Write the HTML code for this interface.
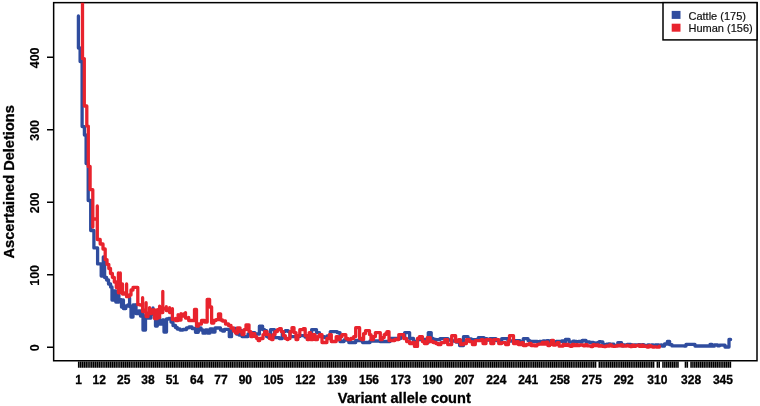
<!DOCTYPE html>
<html><head><meta charset="utf-8"><title>Ascertained Deletions</title>
<style>
html,body{margin:0;padding:0;background:#fff;}
body{width:760px;height:406px;overflow:hidden;}
svg{display:block;}
.ax text{font-family:"Liberation Sans",Arial,sans-serif;font-weight:bold;font-size:12px;fill:#000;stroke:#000;stroke-width:0.3px;text-anchor:middle;}
.ax text.yl{font-size:12.4px;stroke-width:0.15px;}
.ttl{font-family:"Liberation Sans",Arial,sans-serif;font-weight:bold;font-size:14.6px;fill:#000;stroke:#000;stroke-width:0.3px;text-anchor:middle;}
.lg{font-family:"Liberation Sans",Arial,sans-serif;font-size:11px;fill:#111;stroke:#111;stroke-width:0.2px;}
</style></head>
<body>
<svg width="760" height="406" viewBox="0 0 760 406">
<rect width="760" height="406" fill="#fff"/>
<defs><clipPath id="pc"><rect x="53.65" y="2.65" width="703.35" height="358.1"/></clipPath></defs>
<rect x="53.65" y="2.65" width="703.35" height="358.1" fill="none" stroke="#000" stroke-width="1.5"/>
<g clip-path="url(#pc)" fill="none" stroke-width="3.3" stroke-linejoin="round" stroke-linecap="round">
<path stroke="#2f4c9e" d="M78.4 16 V48 H80.1 V61.5 H82.1 V126.6 H84.4 V135 H86.1 V163.6 H88.2 V200.5 H90.7 V230.5 H93.9 V247.9 H97.6 V263.9 H101.2 V276 H103.3 V257 H104.6 V277.5 H106.6 V280 H108.5 V284 H110.6 V287 H112 V300 H113.6 V291 H115.8 V302 H118.9 V295 V299.7 H121.5 V307 H123.4 V300 V308.6 H125.8 V306 H127.8 V305 H129.6 V297.7 V306.6 H131 V317 H133 V305 H136 V304.6 V313.5 H138.5 V311 H140.5 V316 H143 V314 V330 H145.5 V316 H147.8 V314 V318 H151 V310 H153 V308 V314 H155.5 V326 H157.3 V320 H159.5 V317 V324 H162.5 V320 H164 V332 H166.5 V319 H168.5 V318.5 H171 V322 H173 V325.5 H175.5 V327.5 H177.3 V329 H180.0 V330.0 H183.0 V329.5 H186.5 V327.8 H189.0 V327.0 H192.0 V328.5 H195.5 V332.3 H198.3 V327.8 H201.0 V330.0 H203.0 V333.2 H205.5 V330.0 H207.5 V333.0 H210.0 V329.0 H212.5 V332.0 H215.0 V328.0 H217.5 V328.0 H220.5 V330.0 H222.5 V331.0 H224.5 V329.3 H227.0 V329.3 H229.3 V336.7 H231.5 V329.0 H234.0 V328.5 H236.5 V334.0 H239.0 V335.0 H240.0 V330.7 H242.0 V336.6 H244.0 V336.6 H248.0 V334.0 H251.0 V332.6 H253.0 V332.6 H254.8 V334.0 H259.4 V326.2 H262.6 V329.7 H264.6 V330.7 H266.6 V336.6 H268.5 V337.6 H270.5 V329.7 H272.5 V329.7 H274.5 V337.6 H277.4 V337.6 H279.4 V338.5 H282.3 V331.6 H285.3 V330.7 H288.2 V331.6 H290.0 V336.6 H294.0 V336.6 H299.8 V335.6 H305.0 V337.0 H309.0 V336.0 H311.6 V329.7 H313.6 V329.7 H316.5 V332.6 H319.5 V336.6 H324.4 V337.6 H327.0 V336.0 H330.3 V331.6 H335.2 V331.6 H337.2 V332.6 H338.0 V332.6 H340.0 V341.5 H344.0 V340.0 H348.8 V342.5 H350.8 V342.5 H355.7 V340.5 H361.6 V341.0 H362.6 V342.5 H365.5 V342.5 H370.0 V341.0 H375.4 V341.0 H380.0 V341.5 H384.2 V341.5 H390.0 V338.5 H396.0 V338.5 H400.7 V336.6 H404.7 V332.6 H406.6 V332.6 H409.6 V338.5 H413.5 V341.5 H417.5 V339.5 H421.4 V339.5 H425.3 V342.5 H428.3 V332.6 H429.3 V332.6 H431.2 V338.5 H433.2 V339.5 H436.0 V339.6 H440.0 V338.6 H443.8 V338.6 H448.0 V340.0 H452.0 V341.0 H456.0 V342.0 H459.6 V345.5 H461.5 V345.5 H463.5 V336.7 H465.5 V336.7 H468.0 V339.0 H471.4 V339.6 H475.3 V339.6 H478.3 V337.6 H484.0 V338.6 H487.0 V340.0 H489.8 V338.6 H492.8 V338.6 H496.0 V340.5 H501.7 V338.6 H504.6 V338.6 H508.0 V341.0 H511.0 V341.0 H514.4 V340.6 H517.4 V340.6 H520.0 V342.0 H523.3 V338.6 H525.3 V338.6 H528.0 V340.6 H529.9 V341.3 H531.7 V341.3 H533.6 V341.3 H535.5 V341.3 H537.4 V341.8 H539.2 V341.3 H541.1 V342.2 H543.0 V341.0 H544.8 V341.3 H546.7 V340.7 H548.6 V341.3 H550.4 V340.7 H552.3 V342.2 H554.2 V341.8 H556.1 V341.3 H557.9 V341.3 H559.8 V341.3 H561.7 V341.0 H563.5 V342.2 H565.4 V339.5 H567.3 V339.5 H569.1 V342.2 H571.0 V342.2 H572.9 V341.1 H574.8 V341.5 H576.6 V341.7 H578.5 V341.5 H580.4 V342.0 H582.2 V340.3 H584.1 V340.5 H586.0 V342.1 H587.8 V342.0 H589.7 V342.4 H591.6 V342.3 H593.5 V343.0 H595.3 V343.2 H597.2 V342.7 H599.1 V341.7 H600.9 V341.8 H602.8 V344.3 H604.7 V344.8 H606.5 V344.1 H608.4 V343.9 H610.3 V345.3 H612.2 V344.2 H614.0 V345.6 H615.9 V345.7 H617.8 V342.6 H619.6 V342.6 H621.5 V345.8 H623.4 V344.9 H625.2 V345.4 H627.1 V344.3 H629.0 V344.3 H630.9 V344.9 H632.7 V345.8 H634.6 V344.9 H636.5 V345.4 H638.3 V344.6 H640.2 V345.8 H642.1 V344.6 H643.9 V345.4 H645.8 V345.8 H647.7 V344.9 H649.6 V345.8 H651.4 V344.9 H653.3 V345.4 H655.2 V344.9 H657.0 V344.9 H658.9 V345.8 H660.8 V344.9 H662.0 V346.0 H664.5 V344.0 H667.4 V341.3 H669.6 V344.7 H672.0 V345.9 H684.0 V346.0 H686.0 V344.4 H693.0 V344.4 H695.0 V346.0 H708.0 V346.2 H710.0 V344.5 H712.0 V346.2 H714.3 V344.8 H717.6 V345.8 H719.6 V345.1 H725.0 V347.0 H729.0 V339.5 H730.6 V339.5"/>
<path stroke="#e8232d" d="M82.5 -10 V58.6 H84.3 V106 H86.8 V126.1 H88.3 V166.5 H90.1 V189.7 H92.8 V227 V219 H97.3 V206 V239.5 H100.2 V244 H103 V249 H105.2 V259.6 H107 V264.3 H108.8 V268.5 H110.5 V273.5 H112.4 V277.3 H114.3 V282 H116.3 V287.5 H118.4 V273 V292.8 H120.3 V273 V292 H122.5 V284 V294 H124.6 V293 H126.6 V284 V296.7 H129.2 V295 H131 V290 H133 V287.4 H135.2 V287.4 H137.8 V304.6 H140 V305 H142.6 V297.7 V311.5 H144.5 V310 H146.1 V302.7 V316.5 H148 V313 H149.6 V307.6 V313.5 H151.5 V310 H154.5 V309.6 V318.5 H157.4 V309.6 V317.5 H159.6 V306.2 V312.6 H162.8 V291.4 V308.6 H166.3 V306.7 V310.6 H169.6 V307.7 V312.6 H172.4 V308.6 V319.5 H175.5 V318.5 V320.5 H178.1 V314.6 V320 H181 V313.6 V316 H183.5 V314 H185.5 V312.6 V318 H188.7 V317.5 V320.5 H191.0 V320.5 H194.5 V309.4 H196.5 V326.0 H198.5 V324.0 H201.5 V320.5 H204.5 V322.0 H207.2 V299.5 H209.6 V307.0 H211.6 V323.0 H213.8 V320.5 H216.0 V319.7 H218.5 V313.8 H220.6 V320.0 H222.5 V321.0 H225.5 V324.0 H228.5 V325.5 H231.0 V328.0 H233.5 V331.0 H235.5 V333.0 H237.5 V327.8 H240.0 V331.6 H242.0 V334.6 H244.0 V329.7 H246.0 V324.8 H248.0 V324.8 H249.0 V331.6 H250.8 V336.6 H252.8 V333.6 H254.8 V336.6 H256.7 V338.5 H258.2 V340.5 H259.7 V338.5 H261.2 V338.5 H263.0 V334.6 H264.6 V331.6 H267.0 V334.6 H269.5 V338.5 H271.5 V339.5 H273.0 V334.6 H275.0 V331.6 H277.4 V329.7 H279.4 V328.7 H281.3 V331.6 H283.3 V335.6 H285.3 V338.5 H287.2 V339.5 H288.0 V338.5 H290.0 V331.6 H292.0 V327.7 H294.0 V332.6 H296.0 V339.5 H297.8 V335.6 H299.8 V329.7 H301.8 V329.7 H303.3 V328.7 H305.2 V335.6 H307.2 V339.5 H309.2 V332.6 H310.6 V339.5 H313.0 V334.6 H315.0 V339.5 H317.5 V336.6 H319.5 V334.6 H322.0 V342.5 H324.4 V342.5 H326.9 V338.5 H329.3 V334.6 H331.3 V341.5 H334.3 V341.5 H336.2 V336.6 H338.0 V339.5 H340.0 V336.6 H342.0 V334.6 H344.0 V334.6 H345.8 V338.5 H347.8 V339.5 H350.8 V338.5 H353.7 V336.6 H355.7 V327.7 H357.7 V327.7 H359.6 V338.5 H361.6 V339.5 H363.6 V333.6 H365.5 V330.7 H367.5 V330.7 H369.5 V334.6 H371.0 V339.5 H373.4 V336.6 H375.4 V332.6 H378.3 V332.6 H380.3 V339.5 H382.3 V337.6 H384.2 V334.6 H386.0 V333.0 H387.0 V331.6 H389.0 V340.5 H391.9 V340.5 H394.8 V339.5 H398.8 V334.6 H401.2 V334.6 H403.7 V338.5 H406.6 V341.5 H409.6 V343.5 H412.5 V342.5 H414.5 V346.4 H417.5 V338.5 H419.4 V336.6 H422.4 V341.5 H424.4 V343.5 H427.3 V337.6 H430.3 V341.5 H433.2 V342.5 H436.0 V343.5 H438.0 V344.5 H440.9 V342.6 H444.8 V339.6 H447.7 V344.5 H451.7 V335.7 H453.7 V335.7 H455.6 V341.6 H458.6 V339.6 H460.5 V344.5 H463.5 V343.5 H466.4 V339.6 H469.4 V341.6 H472.4 V344.5 H475.3 V340.6 H478.3 V340.6 H481.2 V339.6 H483.0 V343.5 H486.0 V339.6 H489.0 V339.6 H490.8 V343.5 H493.8 V339.6 H496.7 V339.6 H498.7 V343.5 H501.7 V342.6 H503.6 V342.6 H505.6 V344.5 H508.5 V340.6 H509.5 V335.7 H511.5 V335.7 H513.5 V343.5 H516.4 V341.6 H518.4 V344.5 H521.3 V342.6 H523.3 V345.5 H526.3 V344.5 H529.2 V343.5 H531.1 V345.6 H532.9 V345.0 H534.8 V345.9 H536.7 V344.6 H538.6 V344.2 H540.4 V344.2 H542.3 V342.5 H544.2 V344.2 H546.0 V342.2 H547.9 V345.5 H549.8 V344.3 H551.6 V340.5 H553.5 V345.2 H555.4 V344.4 H557.3 V342.6 H559.1 V346.2 H561.0 V346.2 H562.9 V344.4 H564.7 V345.3 H566.6 V344.5 H568.5 V345.7 H570.3 V346.3 H572.2 V344.5 H574.1 V345.7 H576.0 V344.6 H577.8 V345.5 H579.7 V345.0 H581.6 V345.0 H583.4 V345.8 H585.3 V344.7 H587.2 V345.9 H589.0 V345.9 H590.9 V346.5 H592.8 V344.7 H594.7 V345.6 H596.5 V344.8 H598.4 V346.0 H600.3 V345.7 H602.1 V346.3 H604.0 V346.6 H605.9 V345.8 H607.7 V346.1 H609.6 V344.9 H611.5 V346.1 H613.4 V346.4 H615.2 V346.2 H617.1 V345.4 H619.0 V345.9 H620.8 V345.0 H622.7 V346.2 H624.6 V346.2 H626.4 V345.5 H628.3 V346.0 H630.2 V346.6 H632.1 V345.1 H633.9 V346.3 H635.8 V345.6 H637.7 V345.2 H639.5 V346.4 H641.4 V345.2 H643.3 V346.4 H645.1 V346.2 H647.0 V347.1 H648.9 V345.7 H650.8 V346.5 H652.6 V347.1 H654.5 V346.8 H656.4 V347.2 H659.3 V346.2"/>
</g>
<path d="M78.70 361.4V367.7M80.57 361.4V367.7M82.45 361.4V367.7M84.32 361.4V367.7M86.19 361.4V367.7M88.06 361.4V367.7M89.94 361.4V367.7M91.81 361.4V367.7M93.68 361.4V367.7M95.55 361.4V367.7M97.43 361.4V367.7M99.30 361.4V367.7M101.17 361.4V367.7M103.05 361.4V367.7M104.92 361.4V367.7M106.79 361.4V367.7M108.66 361.4V367.7M110.54 361.4V367.7M112.41 361.4V367.7M114.28 361.4V367.7M116.15 361.4V367.7M118.03 361.4V367.7M119.90 361.4V367.7M121.77 361.4V367.7M123.64 361.4V367.7M125.52 361.4V367.7M127.39 361.4V367.7M129.26 361.4V367.7M131.14 361.4V367.7M133.01 361.4V367.7M134.88 361.4V367.7M136.75 361.4V367.7M138.63 361.4V367.7M140.50 361.4V367.7M142.37 361.4V367.7M144.24 361.4V367.7M146.12 361.4V367.7M147.99 361.4V367.7M149.86 361.4V367.7M151.74 361.4V367.7M153.61 361.4V367.7M155.48 361.4V367.7M157.35 361.4V367.7M159.23 361.4V367.7M161.10 361.4V367.7M162.97 361.4V367.7M164.84 361.4V367.7M166.72 361.4V367.7M168.59 361.4V367.7M170.46 361.4V367.7M172.34 361.4V367.7M174.21 361.4V367.7M176.08 361.4V367.7M177.95 361.4V367.7M179.83 361.4V367.7M181.70 361.4V367.7M183.57 361.4V367.7M185.44 361.4V367.7M187.32 361.4V367.7M189.19 361.4V367.7M191.06 361.4V367.7M192.93 361.4V367.7M194.81 361.4V367.7M196.68 361.4V367.7M198.55 361.4V367.7M200.43 361.4V367.7M202.30 361.4V367.7M204.17 361.4V367.7M206.04 361.4V367.7M207.92 361.4V367.7M209.79 361.4V367.7M211.66 361.4V367.7M213.53 361.4V367.7M215.41 361.4V367.7M217.28 361.4V367.7M219.15 361.4V367.7M221.03 361.4V367.7M222.90 361.4V367.7M224.77 361.4V367.7M226.64 361.4V367.7M228.52 361.4V367.7M230.39 361.4V367.7M232.26 361.4V367.7M234.13 361.4V367.7M236.01 361.4V367.7M237.88 361.4V367.7M239.75 361.4V367.7M241.62 361.4V367.7M243.50 361.4V367.7M245.37 361.4V367.7M247.24 361.4V367.7M249.12 361.4V367.7M250.99 361.4V367.7M252.86 361.4V367.7M254.73 361.4V367.7M256.61 361.4V367.7M258.48 361.4V367.7M260.35 361.4V367.7M262.22 361.4V367.7M264.10 361.4V367.7M265.97 361.4V367.7M267.84 361.4V367.7M269.72 361.4V367.7M271.59 361.4V367.7M273.46 361.4V367.7M275.33 361.4V367.7M277.21 361.4V367.7M279.08 361.4V367.7M280.95 361.4V367.7M282.82 361.4V367.7M284.70 361.4V367.7M286.57 361.4V367.7M288.44 361.4V367.7M290.32 361.4V367.7M292.19 361.4V367.7M294.06 361.4V367.7M295.93 361.4V367.7M297.81 361.4V367.7M299.68 361.4V367.7M301.55 361.4V367.7M303.42 361.4V367.7M305.30 361.4V367.7M307.17 361.4V367.7M309.04 361.4V367.7M310.91 361.4V367.7M312.79 361.4V367.7M314.66 361.4V367.7M316.53 361.4V367.7M318.41 361.4V367.7M320.28 361.4V367.7M322.15 361.4V367.7M324.02 361.4V367.7M325.90 361.4V367.7M327.77 361.4V367.7M329.64 361.4V367.7M331.51 361.4V367.7M333.39 361.4V367.7M335.26 361.4V367.7M337.13 361.4V367.7M339.01 361.4V367.7M340.88 361.4V367.7M342.75 361.4V367.7M344.62 361.4V367.7M346.50 361.4V367.7M348.37 361.4V367.7M350.24 361.4V367.7M352.11 361.4V367.7M353.99 361.4V367.7M355.86 361.4V367.7M357.73 361.4V367.7M359.61 361.4V367.7M361.48 361.4V367.7M363.35 361.4V367.7M365.22 361.4V367.7M367.10 361.4V367.7M368.97 361.4V367.7M370.84 361.4V367.7M372.71 361.4V367.7M374.59 361.4V367.7M376.46 361.4V367.7M378.33 361.4V367.7M380.20 361.4V367.7M382.08 361.4V367.7M383.95 361.4V367.7M385.82 361.4V367.7M387.70 361.4V367.7M389.57 361.4V367.7M391.44 361.4V367.7M393.31 361.4V367.7M395.19 361.4V367.7M397.06 361.4V367.7M398.93 361.4V367.7M400.80 361.4V367.7M402.68 361.4V367.7M404.55 361.4V367.7M406.42 361.4V367.7M408.30 361.4V367.7M410.17 361.4V367.7M412.04 361.4V367.7M413.91 361.4V367.7M415.79 361.4V367.7M417.66 361.4V367.7M419.53 361.4V367.7M421.40 361.4V367.7M423.28 361.4V367.7M425.15 361.4V367.7M427.02 361.4V367.7M428.89 361.4V367.7M430.77 361.4V367.7M432.64 361.4V367.7M434.51 361.4V367.7M436.39 361.4V367.7M438.26 361.4V367.7M440.13 361.4V367.7M442.00 361.4V367.7M443.88 361.4V367.7M445.75 361.4V367.7M447.62 361.4V367.7M449.49 361.4V367.7M451.37 361.4V367.7M453.24 361.4V367.7M455.11 361.4V367.7M456.99 361.4V367.7M458.86 361.4V367.7M460.73 361.4V367.7M462.60 361.4V367.7M464.48 361.4V367.7M466.35 361.4V367.7M468.22 361.4V367.7M470.09 361.4V367.7M471.97 361.4V367.7M473.84 361.4V367.7M475.71 361.4V367.7M477.59 361.4V367.7M479.46 361.4V367.7M481.33 361.4V367.7M483.20 361.4V367.7M485.08 361.4V367.7M486.95 361.4V367.7M488.82 361.4V367.7M490.69 361.4V367.7M492.57 361.4V367.7M494.44 361.4V367.7M496.31 361.4V367.7M498.18 361.4V367.7M500.06 361.4V367.7M501.93 361.4V367.7M503.80 361.4V367.7M505.68 361.4V367.7M507.55 361.4V367.7M509.42 361.4V367.7M511.29 361.4V367.7M513.17 361.4V367.7M515.04 361.4V367.7M516.91 361.4V367.7M518.78 361.4V367.7M520.66 361.4V367.7M522.53 361.4V367.7M524.40 361.4V367.7M526.28 361.4V367.7M528.15 361.4V367.7M530.02 361.4V367.7M531.89 361.4V367.7M533.77 361.4V367.7M535.64 361.4V367.7M537.51 361.4V367.7M539.38 361.4V367.7M541.26 361.4V367.7M543.13 361.4V367.7M545.00 361.4V367.7M546.88 361.4V367.7M548.75 361.4V367.7M550.62 361.4V367.7M552.49 361.4V367.7M554.37 361.4V367.7M556.24 361.4V367.7M558.11 361.4V367.7M559.98 361.4V367.7M561.86 361.4V367.7M563.73 361.4V367.7M565.60 361.4V367.7M567.47 361.4V367.7M569.35 361.4V367.7M571.22 361.4V367.7M573.09 361.4V367.7M574.97 361.4V367.7M576.84 361.4V367.7M578.71 361.4V367.7M580.58 361.4V367.7M582.46 361.4V367.7M584.33 361.4V367.7M586.20 361.4V367.7M588.07 361.4V367.7M589.95 361.4V367.7M591.82 361.4V367.7M593.69 361.4V367.7M595.57 361.4V367.7M599.31 361.4V367.7M601.18 361.4V367.7M603.06 361.4V367.7M604.93 361.4V367.7M606.80 361.4V367.7M608.67 361.4V367.7M610.55 361.4V367.7M612.42 361.4V367.7M614.29 361.4V367.7M616.16 361.4V367.7M618.04 361.4V367.7M619.91 361.4V367.7M621.78 361.4V367.7M623.66 361.4V367.7M625.53 361.4V367.7M627.40 361.4V367.7M629.27 361.4V367.7M631.15 361.4V367.7M633.02 361.4V367.7M634.89 361.4V367.7M636.76 361.4V367.7M638.64 361.4V367.7M640.51 361.4V367.7M642.38 361.4V367.7M644.26 361.4V367.7M646.13 361.4V367.7M648.00 361.4V367.7M649.87 361.4V367.7M651.75 361.4V367.7M653.62 361.4V367.7M657.36 361.4V367.7M659.24 361.4V367.7M662.98 361.4V367.7M664.86 361.4V367.7M666.73 361.4V367.7M668.60 361.4V367.7M670.47 361.4V367.7M672.35 361.4V367.7M674.22 361.4V367.7M676.09 361.4V367.7M677.96 361.4V367.7M685.45 361.4V367.7M687.33 361.4V367.7M691.07 361.4V367.7M692.95 361.4V367.7M694.82 361.4V367.7M696.69 361.4V367.7M698.56 361.4V367.7M700.44 361.4V367.7M702.31 361.4V367.7M704.18 361.4V367.7M706.05 361.4V367.7M707.93 361.4V367.7M709.80 361.4V367.7M711.67 361.4V367.7M713.55 361.4V367.7M715.42 361.4V367.7M717.29 361.4V367.7M719.16 361.4V367.7M721.04 361.4V367.7M722.91 361.4V367.7M724.78 361.4V367.7M726.65 361.4V367.7M728.53 361.4V367.7M730.40 361.4V367.7" stroke="#000" stroke-width="1.55" fill="none"/>
<path d="M47 347.30H53.6M47 274.80H53.6M47 202.30H53.6M47 129.80H53.6M47 57.30H53.6" stroke="#000" stroke-width="1.5" fill="none"/>
<g class="ax">
<text x="78.70" y="384">1</text>
<text x="99.30" y="384">12</text>
<text x="123.64" y="384">25</text>
<text x="147.99" y="384">38</text>
<text x="172.34" y="384">51</text>
<text x="196.68" y="384">64</text>
<text x="221.03" y="384">77</text>
<text x="245.37" y="384">90</text>
<text x="273.46" y="384">105</text>
<text x="305.30" y="384">122</text>
<text x="337.13" y="384">139</text>
<text x="368.97" y="384">156</text>
<text x="400.80" y="384">173</text>
<text x="432.64" y="384">190</text>
<text x="464.48" y="384">207</text>
<text x="496.31" y="384">224</text>
<text x="528.15" y="384">241</text>
<text x="559.98" y="384">258</text>
<text x="591.82" y="384">275</text>
<text x="623.66" y="384">292</text>
<text x="657.36" y="384">310</text>
<text x="691.07" y="384">328</text>
<text x="722.91" y="384">345</text>
<text class="yl" transform="translate(38.8 347.90) rotate(-90)" x="0" y="0">0</text>
<text class="yl" transform="translate(38.8 275.40) rotate(-90)" x="0" y="0">100</text>
<text class="yl" transform="translate(38.8 202.90) rotate(-90)" x="0" y="0">200</text>
<text class="yl" transform="translate(38.8 130.40) rotate(-90)" x="0" y="0">300</text>
<text class="yl" transform="translate(38.8 57.90) rotate(-90)" x="0" y="0">400</text>
</g>
<text class="ttl" x="404.3" y="403.3">Variant allele count</text>
<text class="ttl" transform="translate(13.6 181.8) rotate(-90)">Ascertained Deletions</text>
<rect x="663" y="2.65" width="94" height="37.25" fill="#fff" stroke="#000" stroke-width="1.5"/>
<rect x="671.7" y="10.9" width="8.8" height="8" fill="#2f4c9e"/>
<rect x="671.7" y="23.7" width="8.8" height="8" fill="#e8232d"/>
<text class="lg" x="688.5" y="19.8">Cattle (175)</text>
<text class="lg" x="688.5" y="32.1">Human (156)</text>
</svg>
</body></html>
